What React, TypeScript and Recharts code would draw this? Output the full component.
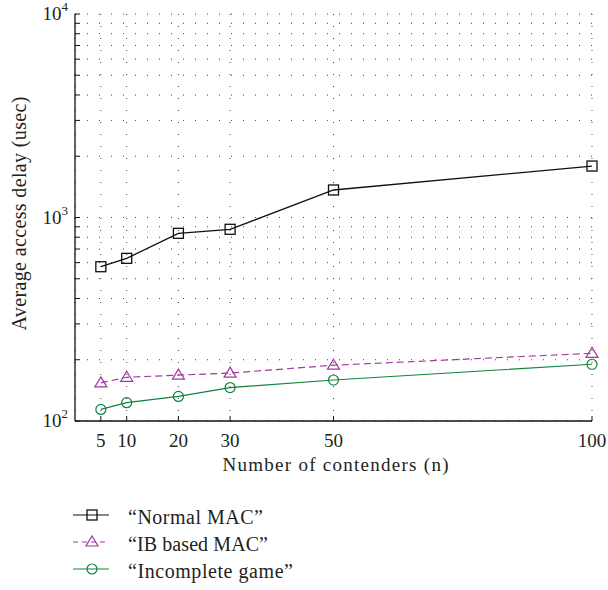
import { LineChart, Line, XAxis, YAxis, CartesianGrid, Legend } from 'recharts';

// number of contenders (x) and average access delay in usec (y, log scale)
const contenders = [5, 10, 20, 30, 50, 100];
const normalMac = [573, 630, 836, 875, 1365, 1790];
const ibBasedMac = [154, 164, 168, 172, 188, 215];
const incompleteGame = [114, 123, 132, 146, 159, 190];

const xTicks = [5, 10, 20, 30, 50, 100];
const yTicks = [100, 200, 300, 400, 500, 600, 700, 800, 900, 1000, 2000, 3000, 4000, 5000, 6000, 7000, 8000, 9000, 10000];

const seriesNames = ['“Normal MAC”', '“IB based MAC”', '“Incomplete game”'];

const FONT = '"Liberation Serif", "DejaVu Serif", serif';
const TEXT = '#231f20';
const BLACK = '#111';
const PURPLE = '#a4379f';
const GREEN = '#12823f';

const data = contenders.map((n, i) => ({
  n,
  normal: normalMac[i],
  ib: ibBasedMac[i],
  game: incompleteGame[i],
}));

function isPow10(v: number) {
  const e = Math.round(Math.log10(v));
  return Math.abs(Math.pow(10, e) - v) < 1e-6;
}

// ticks are drawn inward, so all axes get tickSize 0 and draw their own marks
function LeftTick({ x, y, payload }: any) {
  const v = payload.value;
  return (
    <g>
      <line x1={x} x2={x + 5} y1={y} y2={y} stroke={BLACK} strokeWidth={1} />
      {isPow10(v) && (
        <text x={x - 7} y={y + 6} textAnchor="end" fontFamily={FONT} fontSize={19} fill={TEXT}>
          10<tspan dy={-9} fontSize={13}>{Math.round(Math.log10(v))}</tspan>
        </text>
      )}
    </g>
  );
}

function RightTick({ x, y }: any) {
  return <line x1={x - 5} x2={x} y1={y} y2={y} stroke={BLACK} strokeWidth={1} />;
}

function BottomTick({ x, y, payload }: any) {
  return (
    <g>
      <line x1={x} x2={x} y1={y} y2={y - 5} stroke={BLACK} strokeWidth={1} />
      <text x={x} y={y + 26} textAnchor="middle" fontFamily={FONT} fontSize={19} fill={TEXT}>
        {payload.value}
      </text>
    </g>
  );
}

function TopTick({ x, y }: any) {
  return <line x1={x} x2={x} y1={y} y2={y + 5} stroke={BLACK} strokeWidth={1} />;
}

function SquareDot({ cx, cy, stroke }: any) {
  if (cx == null || cy == null) return <g />;
  return <rect x={cx - 5} y={cy - 5} width={10} height={10} fill="none" stroke={stroke} strokeWidth={1.3} />;
}

function TriangleDot({ cx, cy, stroke }: any) {
  if (cx == null || cy == null) return <g />;
  return (
    <path
      d={`M${cx},${cy - 6} L${cx + 6},${cy + 4} L${cx - 6},${cy + 4} Z`}
      fill="none"
      stroke={stroke}
      strokeWidth={1.2}
    />
  );
}

function CircleDot({ cx, cy, stroke }: any) {
  if (cx == null || cy == null) return <g />;
  return <circle cx={cx} cy={cy} r={5} fill="none" stroke={stroke} strokeWidth={1.2} />;
}

function LegendBox() {
  const rows = [
    { name: seriesNames[0], color: BLACK, dash: undefined, Marker: SquareDot, len: 135 },
    { name: seriesNames[1], color: PURPLE, dash: '5 4', Marker: TriangleDot, len: 140 },
    { name: seriesNames[2], color: GREEN, dash: undefined, Marker: CircleDot, len: 165 },
  ];
  return (
    <svg width={260} height={86}>
      {rows.map((r, i) => {
        const y = 11 + i * 27;
        return (
          <g key={r.name}>
            <line x1={13} x2={49} y1={y} y2={y} stroke={r.color} strokeWidth={1.2} strokeDasharray={r.dash} />
            <r.Marker cx={32} cy={y} stroke={r.color} />
            <text
              x={68}
              y={y + 9}
              fontFamily={FONT}
              fontSize={20}
              fill={TEXT}
              textLength={r.len}
              lengthAdjust="spacing"
            >
              {r.name}
            </text>
          </g>
        );
      })}
    </svg>
  );
}

export default function App() {
  return (
    <div style={{ position: 'absolute', left: 0, top: 0, width: 608, height: 590, background: '#fff' }}>
      <LineChart width={608} height={590} data={data} margin={{ top: 14, right: 16, bottom: 114, left: 0 }}>
        <CartesianGrid stroke="#444" strokeDasharray="1 11" strokeWidth={1} />
        <XAxis
          dataKey="n"
          type="number"
          domain={[0, 100]}
          ticks={xTicks}
          axisLine={{ stroke: BLACK, strokeWidth: 1.3 }}
          tickLine={false}
          tickSize={0}
          tickMargin={0}
          tick={<BottomTick />}
          height={55}
          interval={0}
          label={({ viewBox }: any) => (
            <text
              x={viewBox.x + viewBox.width / 2 + 2}
              y={viewBox.y + 50}
              textAnchor="middle"
              fontFamily={FONT}
              fontSize={19}
              fill={TEXT}
              textLength={226}
              lengthAdjust="spacing"
            >
              Number of contenders (n)
            </text>
          )}
        />
        <XAxis
          xAxisId="top"
          orientation="top"
          dataKey="n"
          type="number"
          domain={[0, 100]}
          ticks={xTicks}
          axisLine={{ stroke: BLACK, strokeWidth: 1.3 }}
          tickLine={false}
          tickSize={0}
          tickMargin={0}
          tick={<TopTick />}
          height={0}
          interval={0}
        />
        <YAxis
          type="number"
          scale="log"
          domain={[100, 10000]}
          ticks={yTicks}
          allowDataOverflow
          width={75}
          axisLine={{ stroke: BLACK, strokeWidth: 1.3 }}
          tickLine={false}
          tickSize={0}
          tickMargin={0}
          tick={<LeftTick />}
          interval={0}
          label={({ viewBox }: any) => {
            const cx = 19;
            const cy = viewBox.y + viewBox.height / 2 - 4;
            return (
              <text
                x={cx}
                y={cy}
                transform={`rotate(-90 ${cx} ${cy})`}
                textAnchor="middle"
                dominantBaseline="central"
                fontFamily={FONT}
                fontSize={20}
                fill={TEXT}
                textLength={234}
                lengthAdjust="spacing"
              >
                Average access delay (usec)
              </text>
            );
          }}
        />
        <YAxis
          yAxisId="right"
          orientation="right"
          type="number"
          scale="log"
          domain={[100, 10000]}
          ticks={yTicks}
          allowDataOverflow
          width={0}
          axisLine={{ stroke: BLACK, strokeWidth: 1.3 }}
          tickLine={false}
          tickSize={0}
          tickMargin={0}
          tick={<RightTick />}
          interval={0}
        />
        <Legend
          layout="vertical"
          align="center"
          verticalAlign="middle"
          wrapperStyle={{ position: 'absolute', left: 60, top: 504, width: 260, height: 86 }}
          content={() => <LegendBox />}
        />
        <Line
          dataKey="normal"
          name={seriesNames[0]}
          stroke={BLACK}
          strokeWidth={1.3}
          dot={(p: any) => <SquareDot key={`s${p.index}`} cx={p.cx} cy={p.cy} stroke={BLACK} />}
          isAnimationActive={false}
        />
        <Line
          dataKey="ib"
          name={seriesNames[1]}
          stroke={PURPLE}
          strokeWidth={1.2}
          strokeDasharray="7 4"
          dot={(p: any) => <TriangleDot key={`t${p.index}`} cx={p.cx} cy={p.cy} stroke={PURPLE} />}
          isAnimationActive={false}
        />
        <Line
          dataKey="game"
          name={seriesNames[2]}
          stroke={GREEN}
          strokeWidth={1.2}
          dot={(p: any) => <CircleDot key={`c${p.index}`} cx={p.cx} cy={p.cy} stroke={GREEN} />}
          isAnimationActive={false}
        />
      </LineChart>
    </div>
  );
}
